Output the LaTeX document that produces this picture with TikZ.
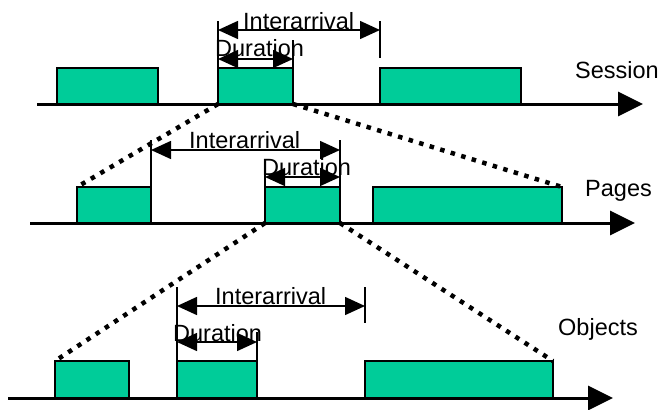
\documentclass[tikz,border=0pt]{standalone}
\usepackage{fontspec}
\setmainfont{Liberation Sans}
\usetikzlibrary{arrows.meta}
\definecolor{boxgreen}{RGB}{0,204,153}
\tikzset{
  timebox/.style={draw=black, fill=boxgreen, line width=2pt, rectangle, inner sep=0pt, outer sep=0pt},
  axisline/.style={line width=3pt, -{Triangle[length=25pt,width=24pt]}},
  tick/.style={line width=1.5pt},
  dimarrow/.style={line width=1.5pt, {Triangle[length=20pt,width=18pt]}-{Triangle[length=20pt,width=18pt]}},
  zoomline/.style={line width=4.5pt, dash pattern=on 4.5pt off 6.5pt},
  lbl/.style={font=\fontsize{23.5}{26}\selectfont, inner sep=0pt, anchor=base west},
}
\newcommand{\tbox}[5]{\node[timebox, anchor=north west, minimum width=#4pt-#2pt, minimum height=#5pt-#3pt] (#1) at (#2,#3) {};}
\begin{document}
\begin{tikzpicture}[x=1pt, y=-1pt]
\useasboundingbox (0,0) rectangle (670,410);

% ---- Session level ----
\coordinate (sa0) at (37,104); \coordinate (sa1) at (643,104);
\draw[axisline] (sa0) -- (sa1);
\tbox{s1}{57}{68}{158}{104}
\tbox{s2}{218}{68}{293}{104}
\tbox{s3}{380}{68}{521}{104}
\coordinate (sT1) at (218,21); \coordinate (sT2) at (380,21); \coordinate (sT2b) at (380,58);
\coordinate (sT3) at (293,40);
\draw[tick] (s2.north west) -- (sT1);
\draw[tick] (sT2) -- (sT2b);
\draw[tick] (s2.north east) -- (sT3);
\coordinate (sI0) at (218,30); \coordinate (sI1) at (380,30);
\coordinate (sD0) at (218,59); \coordinate (sD1) at (293,59);
\draw[dimarrow] (sI0) -- (sI1);
\draw[dimarrow] (sD0) -- (sD1);
\node[lbl] (sIlab) at (243,29) {Interarrival};
\node[lbl] (sDlab) at (215,56.5) {Duration};
\node[lbl] (slab) at (575,78) {Session};

% ---- Pages level ----
\coordinate (pa0) at (30,223); \coordinate (pa1) at (635,223);
\draw[axisline] (pa0) -- (pa1);
\tbox{p1}{77}{187}{151}{223}
\tbox{p2}{265}{187}{340}{223}
\tbox{p3}{373}{187}{562}{223}
\coordinate (pT1) at (151,140); \coordinate (pT2) at (340,140); \coordinate (pT3) at (265,165);
\draw[tick] (p1.north east) -- (pT1);
\draw[tick] (p2.north east) -- (pT2);
\draw[tick] (p2.north west) -- (pT3);
\coordinate (pI0) at (151,150); \coordinate (pI1) at (340,150);
\coordinate (pD0) at (265,177); \coordinate (pD1) at (340,177);
\draw[dimarrow] (pI0) -- (pI1);
\draw[dimarrow] (pD0) -- (pD1);
\node[lbl] (pIlab) at (189,148) {Interarrival};
\node[lbl] (pDlab) at (262,175) {Duration};
\node[lbl] (plab) at (585,196) {Pages};

% ---- Objects level ----
\coordinate (oa0) at (8,398); \coordinate (oa1) at (613,398);
\draw[axisline] (oa0) -- (oa1);
\tbox{o1}{55}{361}{129}{398}
\tbox{o2}{177}{361}{257}{398}
\tbox{o3}{365}{361}{553}{398}
\coordinate (oT1) at (177,287); \coordinate (oT2) at (365,287); \coordinate (oT2b) at (365,323);
\coordinate (oT3) at (257,332);
\draw[tick] (o2.north west) -- (oT1);
\draw[tick] (oT2) -- (oT2b);
\draw[tick] (o2.north east) -- (oT3);
\coordinate (oI0) at (177,306); \coordinate (oI1) at (365,306);
\coordinate (oD0) at (177,342); \coordinate (oD1) at (257,342);
\draw[dimarrow] (oI0) -- (oI1);
\draw[dimarrow] (oD0) -- (oD1);
\node[lbl] (oIlab) at (215,304) {Interarrival};
\node[lbl] (oDlab) at (173,341) {Duration};
\node[lbl] (olab) at (558,335) {Objects};

% ---- zoom-in guides between levels ----
\draw[zoomline] (s2.south west) -- (p1.north west);
\draw[zoomline] (s2.south east) -- (p3.north east);
\draw[zoomline] (p2.south west) -- (o1.north west);
\draw[zoomline] (p2.south east) -- (o3.north east);
\end{tikzpicture}
\end{document}
